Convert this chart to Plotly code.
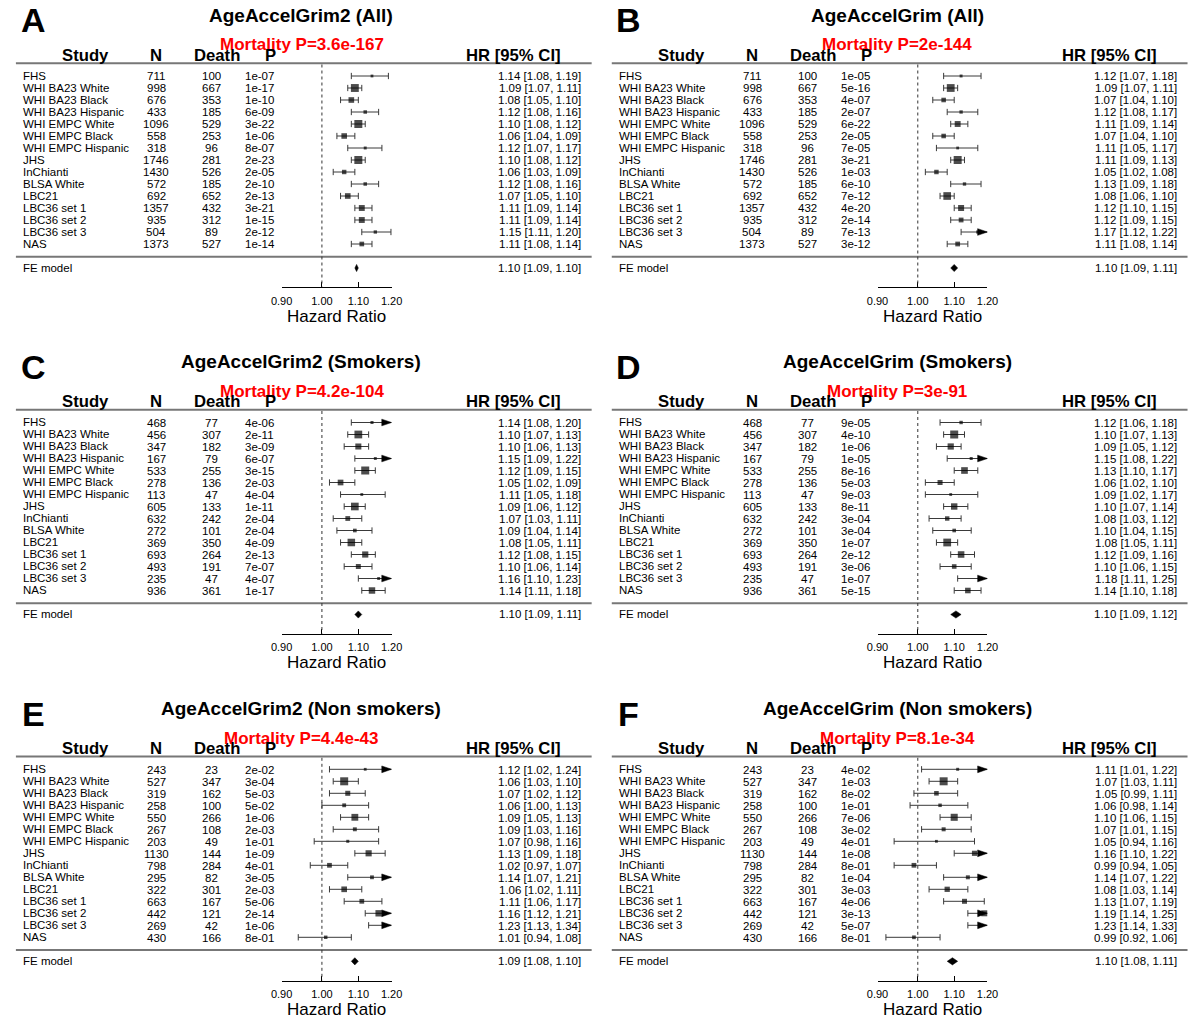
import math
import plotly.graph_objects as go

STUDIES = ["FHS", "WHI BA23 White", "WHI BA23 Black", "WHI BA23 Hispanic",
           "WHI EMPC White", "WHI EMPC Black", "WHI EMPC Hispanic", "JHS",
           "InChianti", "BLSA White", "LBC21", "LBC36 set 1", "LBC36 set 2",
           "LBC36 set 3", "NAS"]

# ---- Panel A: AgeAccelGrim2 (All)
A_N = [711, 998, 676, 433, 1096, 558, 318, 1746, 1430, 572, 692, 1357, 935, 504, 1373]
A_DEATH = [100, 667, 353, 185, 529, 253, 96, 281, 526, 185, 652, 432, 312, 89, 527]
A_P = ["1e-07", "1e-17", "1e-10", "6e-09", "3e-22", "1e-06", "8e-07", "2e-23", "2e-05",
       "2e-10", "2e-13", "3e-21", "1e-15", "2e-12", "1e-14"]
A_HR = [1.14, 1.09, 1.08, 1.12, 1.10, 1.06, 1.12, 1.10, 1.06, 1.12, 1.07, 1.11, 1.11, 1.15, 1.11]
A_LO = [1.08, 1.07, 1.05, 1.08, 1.08, 1.04, 1.07, 1.08, 1.03, 1.08, 1.05, 1.09, 1.09, 1.11, 1.08]
A_HI = [1.19, 1.11, 1.10, 1.16, 1.12, 1.09, 1.17, 1.12, 1.09, 1.16, 1.10, 1.14, 1.14, 1.198, 1.14]
A_FE = [1.10, 1.09, 1.10]
A_MORT = "3.6e-167"

# ---- Panel B: AgeAccelGrim (All)
B_N = A_N
B_DEATH = A_DEATH
B_P = ["1e-05", "5e-16", "4e-07", "2e-07", "6e-22", "2e-05", "7e-05", "3e-21", "1e-03",
       "6e-10", "7e-12", "4e-20", "2e-14", "7e-13", "3e-12"]
B_HR = [1.12, 1.09, 1.07, 1.12, 1.11, 1.07, 1.11, 1.11, 1.05, 1.13, 1.08, 1.12, 1.12, 1.17, 1.11]
B_LO = [1.07, 1.07, 1.04, 1.08, 1.09, 1.04, 1.05, 1.09, 1.02, 1.09, 1.06, 1.10, 1.09, 1.12, 1.08]
B_HI = [1.18, 1.11, 1.10, 1.17, 1.14, 1.10, 1.17, 1.13, 1.08, 1.18, 1.10, 1.15, 1.15, 1.22, 1.14]
B_FE = [1.10, 1.09, 1.11]
B_MORT = "2e-144"

# ---- Panel C: AgeAccelGrim2 (Smokers)
C_N = [468, 456, 347, 167, 533, 278, 113, 605, 632, 272, 369, 693, 493, 235, 936]
C_DEATH = [77, 307, 182, 79, 255, 136, 47, 133, 242, 101, 350, 264, 191, 47, 361]
C_P = ["4e-06", "2e-11", "3e-09", "6e-07", "3e-15", "2e-03", "4e-04", "1e-11", "2e-04",
       "2e-04", "4e-09", "2e-13", "7e-07", "4e-07", "1e-17"]
C_HR = [1.14, 1.10, 1.10, 1.15, 1.12, 1.05, 1.11, 1.09, 1.07, 1.09, 1.08, 1.12, 1.10, 1.16, 1.14]
C_LO = [1.08, 1.07, 1.06, 1.09, 1.09, 1.02, 1.05, 1.06, 1.03, 1.04, 1.05, 1.08, 1.06, 1.10, 1.11]
C_HI = [1.202, 1.13, 1.13, 1.22, 1.15, 1.09, 1.18, 1.12, 1.11, 1.14, 1.11, 1.15, 1.14, 1.23, 1.18]
C_FE = [1.10, 1.09, 1.11]
C_MORT = "4.2e-104"

# ---- Panel D: AgeAccelGrim (Smokers)
D_N = C_N
D_DEATH = C_DEATH
D_P = ["9e-05", "4e-10", "1e-06", "1e-05", "8e-16", "5e-03", "9e-03", "8e-11", "3e-04",
       "3e-04", "1e-07", "2e-12", "3e-06", "1e-07", "5e-15"]
D_HR = [1.12, 1.10, 1.09, 1.15, 1.13, 1.06, 1.09, 1.10, 1.08, 1.10, 1.08, 1.12, 1.10, 1.18, 1.14]
D_LO = [1.06, 1.07, 1.05, 1.08, 1.10, 1.02, 1.02, 1.07, 1.03, 1.04, 1.05, 1.09, 1.06, 1.11, 1.10]
D_HI = [1.18, 1.13, 1.12, 1.22, 1.17, 1.10, 1.17, 1.14, 1.12, 1.15, 1.11, 1.16, 1.15, 1.25, 1.18]
D_FE = [1.10, 1.09, 1.12]
D_MORT = "3e-91"

# ---- Panel E: AgeAccelGrim2 (Non smokers)
E_N = [243, 527, 319, 258, 550, 267, 203, 1130, 798, 295, 322, 663, 442, 269, 430]
E_DEATH = [23, 347, 162, 100, 266, 108, 49, 144, 284, 82, 301, 167, 121, 42, 166]
E_P = ["2e-02", "3e-04", "5e-03", "5e-02", "1e-06", "2e-03", "1e-01", "1e-09", "4e-01",
       "3e-05", "2e-03", "5e-06", "2e-14", "1e-06", "8e-01"]
E_HR = [1.12, 1.06, 1.07, 1.06, 1.09, 1.09, 1.07, 1.13, 1.02, 1.14, 1.06, 1.11, 1.16, 1.23, 1.01]
E_LO = [1.02, 1.03, 1.02, 1.00, 1.05, 1.03, 0.98, 1.09, 0.97, 1.07, 1.02, 1.06, 1.12, 1.13, 0.94]
E_HI = [1.24, 1.10, 1.12, 1.13, 1.13, 1.16, 1.16, 1.18, 1.07, 1.21, 1.11, 1.17, 1.21, 1.34, 1.08]
E_FE = [1.09, 1.08, 1.10]
E_MORT = "4.4e-43"

# ---- Panel F: AgeAccelGrim (Non smokers)
F_N = E_N
F_DEATH = E_DEATH
F_P = ["4e-02", "1e-03", "8e-02", "1e-01", "7e-06", "3e-02", "4e-01", "1e-08", "8e-01",
       "1e-04", "3e-03", "4e-06", "3e-13", "5e-07", "8e-01"]
F_HR = [1.11, 1.07, 1.05, 1.06, 1.10, 1.07, 1.05, 1.16, 0.99, 1.14, 1.08, 1.13, 1.19, 1.23, 0.99]
F_LO = [1.01, 1.03, 0.99, 0.98, 1.06, 1.01, 0.94, 1.10, 0.94, 1.07, 1.03, 1.07, 1.14, 1.14, 0.92]
F_HI = [1.22, 1.11, 1.11, 1.14, 1.15, 1.15, 1.16, 1.22, 1.05, 1.22, 1.14, 1.19, 1.25, 1.33, 1.06]
F_FE = [1.10, 1.08, 1.11]
F_MORT = "8.1e-34"

TITLES = ["AgeAccelGrim2 (All)", "AgeAccelGrim (All)",
          "AgeAccelGrim2 (Smokers)", "AgeAccelGrim (Smokers)",
          "AgeAccelGrim2 (Non smokers)", "AgeAccelGrim (Non smokers)"]
LETTERS = ["A", "B", "C", "D", "E", "F"]
TICKS = [0.90, 1.00, 1.10, 1.20]
HEADERS = ["Study", "N", "Death", "P", "HR [95% CI]"]

PANELS = [
    (A_N, A_DEATH, A_P, A_HR, A_LO, A_HI, A_FE, A_MORT),
    (B_N, B_DEATH, B_P, B_HR, B_LO, B_HI, B_FE, B_MORT),
    (C_N, C_DEATH, C_P, C_HR, C_LO, C_HI, C_FE, C_MORT),
    (D_N, D_DEATH, D_P, D_HR, D_LO, D_HI, D_FE, D_MORT),
    (E_N, E_DEATH, E_P, E_HR, E_LO, E_HI, E_FE, E_MORT),
    (F_N, F_DEATH, F_P, F_HR, F_LO, F_HI, F_FE, F_MORT),
]

# ---------------- layout constants (pixels of the 1200x1022 page) ----------------
FONT = "Liberation Sans, Arial, Helvetica, sans-serif"
OFF = 0                     # body margin is removed by the post script below
W, H = 1200 - OFF, 1022 - OFF
COL_OX = [0, 607]
ROW_OY = [0, 346.5, 693.3]
ROW0, PITCH = 76.0, 12.0
AX_X0, AX_X1 = 275.7, 387.7
AXIS_Y = 287.3
XMIN, XMAX = TICKS[0], TICKS[-1]
PX_PER_LN = (AX_X1 - AX_X0) / math.log(XMAX / XMIN)
WHISK = "#3a3a3a"
RULE = "#777777"


def fx(px):
    return (px - OFF) / W


def fy(py):
    return 1 - (py - OFF) / H


def idx(py):
    return (py - ROW0) / PITCH


fig = go.Figure()
annotations = []
shapes = []
layout_axes = {}

for k, (n, death, p, hr, lo, hi, fe, mort) in enumerate(PANELS):
    ox = COL_OX[k % 2]
    oy = ROW_OY[k // 2]
    xa = "x" if k == 0 else f"x{k+1}"
    ya = "y" if k == 0 else f"y{k+1}"
    xname = "xaxis" if k == 0 else f"xaxis{k+1}"
    yname = "yaxis" if k == 0 else f"yaxis{k+1}"

    layout_axes[xname] = dict(
        domain=[fx(ox + AX_X0), fx(ox + AX_X1)], type="log",
        range=[math.log10(XMIN), math.log10(XMAX)], anchor=ya,
        showline=True, linecolor="black", linewidth=1, mirror=False,
        ticks="inside", ticklen=5, tickwidth=1, tickcolor="black",
        tickvals=TICKS, ticktext=[f"{t:.2f}" for t in TICKS],
        tickfont=dict(family=FONT, size=11, color="black"),
        ticklabelstandoff=3,
        showgrid=False, zeroline=False, fixedrange=True)
    top_rel = max(oy, OFF) - oy
    layout_axes[yname] = dict(
        domain=[fy(oy + AXIS_Y), fy(oy + top_rel)],
        range=[idx(AXIS_Y), idx(top_rel)], anchor=xa, visible=False,
        showgrid=False, zeroline=False, fixedrange=True)

    rows = list(range(len(STUDIES)))
    fe_row = len(STUDIES) + 1

    # weights from CI width -> marker size
    wts = []
    for l, h_ in zip(lo, hi):
        se = (math.log(h_) - math.log(l)) / (2 * 1.96)
        wts.append(1 / se ** 2)
    wmin, wmax = min(wts), max(wts)
    sizes = [2.8 + (w - wmin) / (wmax - wmin) * (8.0 - 2.8) for w in wts]

    # whiskers
    wx, wy = [], []
    for r, l, h_ in zip(rows, lo, hi):
        wx += [max(l, XMIN), min(h_, XMAX), None]
        wy += [r, r, None]
    fig.add_trace(go.Scatter(x=wx, y=wy, mode="lines", xaxis=xa, yaxis=ya,
                             line=dict(color=WHISK, width=1), cliponaxis=False,
                             hoverinfo="skip", showlegend=False))
    # caps
    cx, cy = [], []
    for r, l, h_ in zip(rows, lo, hi):
        cx.append(l); cy.append(r)
        if h_ <= XMAX:
            cx.append(h_); cy.append(r)
    fig.add_trace(go.Scatter(x=cx, y=cy, mode="markers", xaxis=xa, yaxis=ya,
                             marker=dict(symbol="line-ns", size=4.5,
                                         line=dict(color=WHISK, width=1)),
                             cliponaxis=False, hoverinfo="skip", showlegend=False))
    # arrows for CIs beyond the axis limit
    axx, ayy = [], []
    base = XMAX * math.exp(-10 / PX_PER_LN)
    for r, h_ in zip(rows, hi):
        if h_ > XMAX:
            axx += [base, XMAX, base, base, None]
            ayy += [r - 0.28, r, r + 0.28, r - 0.28, None]
    if axx:
        fig.add_trace(go.Scatter(x=axx, y=ayy, mode="lines", fill="toself",
                                 fillcolor="black", line=dict(color="black", width=0.5),
                                 xaxis=xa, yaxis=ya, cliponaxis=False,
                                 hoverinfo="skip", showlegend=False))
    # squares
    sx = [v for v in hr if v <= XMAX]
    sy = [r for r, v in zip(rows, hr) if v <= XMAX]
    ss = [s for s, v in zip(sizes, hr) if v <= XMAX]
    fig.add_trace(go.Scatter(x=sx, y=sy, mode="markers", xaxis=xa, yaxis=ya,
                             marker=dict(symbol="square", size=ss, color="black",
                                         line=dict(width=0)),
                             cliponaxis=False, hoverinfo="skip", showlegend=False))
    # FE diamond
    fe_est, fe_lo, fe_hi = fe
    mid = math.sqrt(fe_lo * fe_hi)
    fig.add_trace(go.Scatter(x=[fe_lo, mid, fe_hi, mid, fe_lo],
                             y=[fe_row, fe_row - 0.3, fe_row, fe_row + 0.3, fe_row],
                             mode="lines", fill="toself", fillcolor="black",
                             line=dict(color="black", width=0.5), xaxis=xa, yaxis=ya,
                             cliponaxis=False, hoverinfo="skip", showlegend=False))

    # rules and reference line
    for py in (63.3, 256.7):
        shapes.append(dict(type="line", xref="paper", yref="paper",
                           x0=fx(ox + 5), x1=fx(ox + 591.5),
                           y0=fy(oy + py), y1=fy(oy + py), line=dict(color=RULE, width=2)))
    shapes.append(dict(type="line", xref=xa, yref=ya, x0=1.0, x1=1.0,
                       y0=idx(64.5), y1=idx(AXIS_Y),
                       line=dict(color="#333333", width=1, dash="dot")))

    def ann(text, px, py, xanchor="center", size=11.5, color="black", bold=False):
        annotations.append(dict(
            text=f"<b>{text}</b>" if bold else text, x=fx(ox + px), xref="paper",
            y=fy(oy + py), yref="paper", xanchor=xanchor, yanchor="middle",
            showarrow=False, font=dict(family=FONT, size=size, color=color)))

    ann(LETTERS[k], 22.5, 20.5, size=34, bold=True)
    ann(TITLES[k], 295.8, 15.5, size=19, bold=True)
    ann(f"Mortality P={mort}", 296.0, 45.0, size=17, color="#ff0000", bold=True)
    for htxt, hx in zip(HEADERS, [75.6, 148.2, 209.8, 264.7, 512.3]):
        ann(htxt, hx, 55.5, size=16.7, bold=True)

    for r in rows:
        py = ROW0 + PITCH * r
        ann(STUDIES[r], 10.0, py - 0.5, xanchor="left")
        ann(str(n[r]), 148.2, py + 0.5)
        ann(str(death[r]), 204.5, py + 0.5)
        ann(p[r], 253.6, py + 0.5)
        ann(f"{hr[r]:.2f} [{lo[r]:.2f}, {hi[r]:.2f}]", 582.5, py + 0.5, xanchor="right")
    ann("FE model", 10.0, 267.7, xanchor="left")
    ann(f"{fe_est:.2f} [{fe_lo:.2f}, {fe_hi:.2f}]", 582.5, 267.7, xanchor="right")
    annotations.append(dict(text="Hazard Ratio", xref=f"{xa} domain", x=0.5,
                            yref="paper", y=fy(oy + 316.0), xanchor="center",
                            yanchor="middle", showarrow=False,
                            font=dict(family=FONT, size=17, color="black")))

fig.update_layout(
    width=W, height=H, margin=dict(l=0, r=0, t=0, b=0),
    paper_bgcolor="white", plot_bgcolor="white",
    annotations=annotations, shapes=shapes, showlegend=False,
    **layout_axes)

fig.write_html("out.html",
               config={"displayModeBar": False, "staticPlot": True},
               post_script="document.body.style.margin='0';"
                           "document.body.style.overflow='hidden';")
